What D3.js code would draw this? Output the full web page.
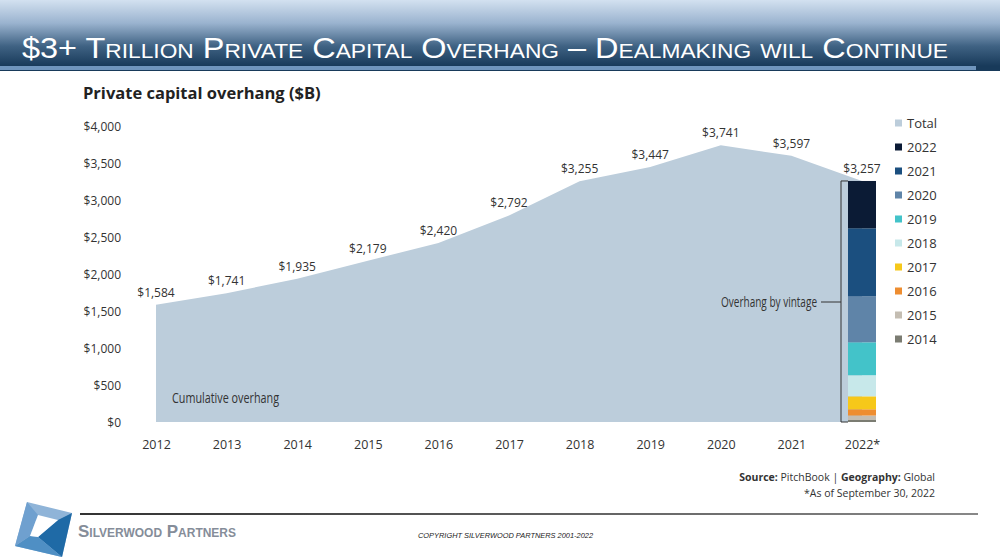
<!DOCTYPE html>
<html><head><meta charset="utf-8">
<script src="https://cdn.jsdelivr.net/npm/d3@7"></script>
<style>
html,body{margin:0;padding:0;background:#fff;}
svg{display:block;}
</style></head>
<body>
<svg id="chart" width="1000" height="560"></svg>
<script>
const years = ["2012","2013","2014","2015","2016","2017","2018","2019","2020","2021","2022*"];
const totals = [1584,1741,1935,2179,2420,2792,3255,3447,3741,3597,3257];
const totalLabels = ["$1,584","$1,741","$1,935","$2,179","$2,420","$2,792","$3,255","$3,447","$3,741","$3,597","$3,257"];
const vintages = ["2014","2015","2016","2017","2018","2019","2020","2021","2022"];
const vintageValues = [27,60,85,175,285,445,620,920,640];
const vintageColors = ["#7b7c72","#c4bdb2","#ee8d30","#f6c81a","#c7e8ea","#43c3c9","#5f84a8","#1b4f7f","#0b1b35"];
const yTicks = [0,500,1000,1500,2000,2500,3000,3500,4000];
const legendItems = ["Total","2022","2021","2020","2019","2018","2017","2016","2015","2014"];
const legendColors = ["#bccddb","#0b1b35","#1b4f7f","#5f84a8","#43c3c9","#c7e8ea","#f6c81a","#ee8d30","#c4bdb2","#7b7c72"];

const svg = d3.select("#chart");
const FONT = "'Open Sans', 'Noto Sans', sans-serif";
const defs = svg.append("defs");

// Header gradient
const hg = defs.append("linearGradient").attr("id","hdr").attr("x1",0).attr("y1",0).attr("x2",0).attr("y2",1);
hg.append("stop").attr("offset","0%").attr("stop-color","#d3e1f0");
hg.append("stop").attr("offset","35%").attr("stop-color","#9ab3cf");
hg.append("stop").attr("offset","70%").attr("stop-color","#3f6283");
hg.append("stop").attr("offset","100%").attr("stop-color","#183a5a");
svg.append("rect").attr("x",0).attr("y",0).attr("width",1000).attr("height",66).attr("fill","url(#hdr)");
svg.append("rect").attr("x",0).attr("y",66).attr("width",1000).attr("height",5).attr("fill","#183a5a");
svg.append("rect").attr("x",0).attr("y",66).attr("width",976).attr("height",4).attr("fill","#6f95bd");

svg.append("text").attr("x",22).attr("y",58)
  .attr("font-family","'Liberation Sans Narrow','Arial Narrow','Liberation Sans',sans-serif")
  .attr("font-size",30).attr("fill","#fff").style("font-variant","small-caps")
  .attr("textLength",926).attr("lengthAdjust","spacingAndGlyphs")
  .text("$3+ Trillion Private Capital Overhang – Dealmaking will Continue");

// Subtitle
svg.append("text").attr("x",83).attr("y",99).attr("font-family",FONT).attr("font-weight",700)
  .attr("font-size",16.5).attr("fill","#222").text("Private capital overhang ($B)");

// Scales
const x = d3.scalePoint().domain(years).range([156,862]);
const y = d3.scaleLinear().domain([0,4000]).range([422,126]);

// Area
const area = d3.area().x((d,i)=>x(years[i])).y0(y(0)).y1(d=>y(d));
svg.append("path").datum(totals).attr("d",area).attr("fill","#bccddb");

// Y axis labels
const yAxis = d3.axisLeft(y).tickValues(yTicks).tickSize(0).tickPadding(0)
  .tickFormat(d=>"$"+d3.format(",")(d));
const gy = svg.append("g").attr("transform","translate(121,0)").call(yAxis);
gy.select(".domain").remove();
gy.selectAll("text").attr("font-family",FONT).attr("font-size",12).attr("fill","#333").attr("dy","0.35em");

// X axis labels
const xAxis = d3.axisBottom(x).tickSize(0).tickPadding(0);
const gx = svg.append("g").attr("transform","translate(0,440)").call(xAxis);
gx.select(".domain").remove();
gx.selectAll("text").attr("font-family",FONT).attr("font-size",12.5).attr("fill","#333").attr("dy","0.71em");

// Total labels
svg.selectAll("text.tl").data(totals).enter().append("text").attr("class","tl")
  .attr("x",(d,i)=>x(years[i])).attr("y",d=>y(d)-8)
  .attr("text-anchor","middle").attr("font-family",FONT).attr("font-size",12).attr("fill","#333")
  .text((d,i)=>totalLabels[i]);

// Stacked bar
const barX = x("2022*");
const barW = 28;
let cum = 0;
const segs = vintageValues.map((v,i)=>{const s={y0:cum,y1:cum+v,c:vintageColors[i]};cum+=v;return s;});
svg.selectAll("rect.seg").data(segs).enter().append("rect").attr("class","seg")
  .attr("x",barX-barW/2).attr("width",barW)
  .attr("y",d=>y(d.y1)).attr("height",d=>y(d.y0)-y(d.y1)).attr("fill",d=>d.c);

// Bracket
const bTop = y(cum), bBot = y(0);
const bx = barX-barW/2-7;
svg.append("path").attr("d",`M${barX-barW/2},${bTop}H${bx}V${bBot}H${barX-barW/2}`)
  .attr("fill","none").attr("stroke","#333").attr("stroke-width",1);
svg.append("line").attr("x1",bx-20).attr("x2",bx).attr("y1",302).attr("y2",302).attr("stroke","#333");
svg.append("text").attr("x",bx-24).attr("y",302).attr("dy","0.35em").attr("text-anchor","end")
  .attr("font-family",FONT).attr("font-size",14).attr("fill","#333")
  .attr("textLength",96).attr("lengthAdjust","spacingAndGlyphs").text("Overhang by vintage");

svg.append("text").attr("x",172).attr("y",403).attr("font-family",FONT).attr("font-size",14)
  .attr("fill","#333").attr("textLength",107).attr("lengthAdjust","spacingAndGlyphs").text("Cumulative overhang");

// Legend
const lg = svg.append("g");
legendItems.forEach((t,i)=>{
  const ly = 123 + i*24;
  lg.append("rect").attr("x",895).attr("y",ly-3.5).attr("width",7).attr("height",7).attr("fill",legendColors[i]);
  lg.append("text").attr("x",907).attr("y",ly).attr("dy","0.35em").attr("font-family",FONT)
    .attr("font-size",13).attr("fill","#333").text(t);
});

// Source
const src = svg.append("text").attr("x",935).attr("y",481).attr("text-anchor","end")
  .attr("font-family",FONT).attr("font-size",10.5).attr("fill","#333");
src.append("tspan").attr("font-weight",700).text("Source: ");
src.append("tspan").text("PitchBook  |  ");
src.append("tspan").attr("font-weight",700).text("Geography: ");
src.append("tspan").text("Global");
svg.append("text").attr("x",935).attr("y",497).attr("text-anchor","end")
  .attr("font-family",FONT).attr("font-size",10.5).attr("fill","#333").text("*As of September 30, 2022");

// Footer line
const fg = defs.append("linearGradient").attr("id","fl").attr("x1",0).attr("x2",1);
fg.append("stop").attr("offset","0%").attr("stop-color","#333");
fg.append("stop").attr("offset","100%").attr("stop-color","#888");
svg.append("rect").attr("x",80).attr("y",513).attr("width",898).attr("height",2).attr("fill","url(#fl)");

// Logo
const logo = svg.append("g");
logo.append("polygon").attr("points","27,502 72,513 62,557 15,546").attr("fill","#8fb4d8");
logo.append("polygon").attr("points","72,513 62,557 38,537 58,520").attr("fill","#1f6aa6");
logo.append("polygon").attr("points","62,557 15,546 30,536 38,537").attr("fill","#4f8fc4");
logo.append("polygon").attr("points","27,502 15,546 30,536 38,515").attr("fill","#6fa0cf");
logo.append("polygon").attr("points","38,515 58,520 38,537 30,536").attr("fill","#fff");

svg.append("text").attr("x",78).attr("y",537).attr("font-family","'Liberation Sans','Open Sans',sans-serif")
  .attr("font-weight",700).attr("font-size",17).style("font-variant","small-caps").attr("fill","#858d99")
  .attr("textLength",158).attr("lengthAdjust","spacingAndGlyphs").text("Silverwood Partners");
svg.append("text").attr("x",418).attr("y",538).attr("font-family","'Liberation Sans Narrow','Liberation Sans',sans-serif")
  .attr("font-style","italic").attr("font-size",8).attr("fill","#222")
  .attr("textLength",175).attr("lengthAdjust","spacingAndGlyphs").text("COPYRIGHT SILVERWOOD PARTNERS 2001-2022");
</script>
</body></html>
